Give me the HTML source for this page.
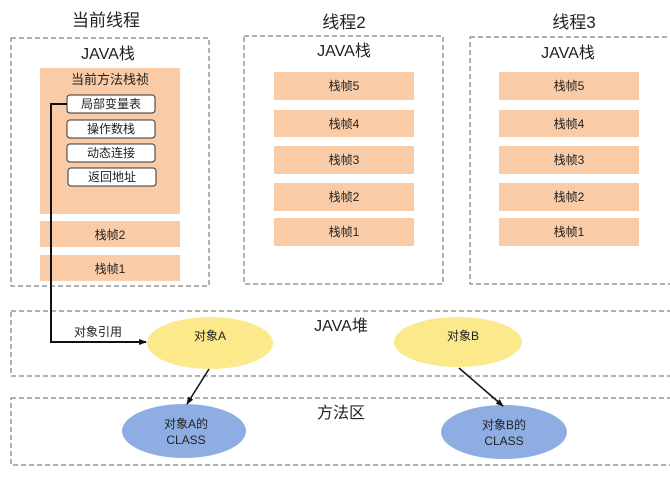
<!DOCTYPE html>
<html><head><meta charset="utf-8"><style>
html,body{margin:0;padding:0;background:#fff;}
svg{display:block;}
text{font-family:"Liberation Sans","Noto Sans CJK SC",sans-serif;fill:#222;text-anchor:middle;}
</style></head><body>
<svg width="670" height="483" viewBox="0 0 670 483" xmlns="http://www.w3.org/2000/svg">
<defs><marker id="ah" markerWidth="8" markerHeight="8" refX="7" refY="4" orient="auto" markerUnits="userSpaceOnUse"><path d="M0,1 L8,4 L0,7 z" fill="#111"/></marker></defs>
<g fill="none" stroke="#666" stroke-width="1" stroke-dasharray="5,3">
<rect x="11" y="38" width="198" height="248"/>
<rect x="244" y="36" width="199" height="248"/>
<rect x="470" y="37" width="210" height="247"/>
<rect x="11" y="311" width="670" height="65"/>
<rect x="11" y="398" width="670" height="67"/>
</g>
<text x="106" y="26" font-size="17">当前线程</text>
<text x="344" y="28" font-size="17">线程2</text>
<text x="574" y="28" font-size="17">线程3</text>
<text x="108" y="59" font-size="16">JAVA栈</text>
<text x="344" y="56" font-size="16">JAVA栈</text>
<text x="568" y="58" font-size="16">JAVA栈</text>
<g fill="#f9cba6">
<rect x="40" y="68" width="140" height="146"/>
<rect x="40" y="221" width="140" height="26"/>
<rect x="40" y="255" width="140" height="26"/>
<rect x="274" y="72" width="140" height="28"/>
<rect x="274" y="110" width="140" height="27"/>
<rect x="274" y="146" width="140" height="28"/>
<rect x="274" y="183" width="140" height="28"/>
<rect x="274" y="218" width="140" height="28"/>
<rect x="499" y="72" width="140" height="28"/>
<rect x="499" y="110" width="140" height="27"/>
<rect x="499" y="146" width="140" height="28"/>
<rect x="499" y="183" width="140" height="28"/>
<rect x="499" y="218" width="140" height="28"/>
</g>
<text x="110" y="84" font-size="13">当前方法栈祯</text>
<g fill="#fff" stroke="#333" stroke-width="1">
<rect x="67" y="95" width="88" height="18" rx="3"/>
<rect x="67" y="120" width="88" height="18" rx="3"/>
<rect x="67" y="144" width="88" height="18" rx="3"/>
<rect x="68" y="168" width="88" height="18" rx="3"/>
</g>
<g font-size="12">
<text x="111" y="108">局部变量表</text>
<text x="111" y="133">操作数栈</text>
<text x="111" y="157">动态连接</text>
<text x="112" y="181">返回地址</text>
<text x="110" y="239">栈帧2</text>
<text x="110" y="273">栈帧1</text>
<text x="344" y="90">栈帧5</text>
<text x="344" y="128">栈帧4</text>
<text x="344" y="164">栈帧3</text>
<text x="344" y="201">栈帧2</text>
<text x="344" y="236">栈帧1</text>
<text x="569" y="90">栈帧5</text>
<text x="569" y="128">栈帧4</text>
<text x="569" y="164">栈帧3</text>
<text x="569" y="201">栈帧2</text>
<text x="569" y="236">栈帧1</text>
</g>
<path d="M67,104 L51,104 L51,342 L146,342" fill="none" stroke="#111" stroke-width="2" marker-end="url(#ah)"/>
<text x="98" y="336" font-size="12">对象引用</text>
<text x="341" y="331" font-size="16">JAVA堆</text>
<text x="341" y="418" font-size="16">方法区</text>
<ellipse cx="210" cy="343" rx="63" ry="26" fill="#fbe98c"/>
<ellipse cx="458" cy="342" rx="64" ry="25" fill="#fbe98c"/>
<text x="210" y="340" font-size="12">对象A</text>
<text x="463" y="340" font-size="12">对象B</text>
<ellipse cx="184" cy="431" rx="62" ry="27" fill="#8eaee3"/>
<ellipse cx="504" cy="432" rx="63" ry="27" fill="#8eaee3"/>
<text x="186" y="428" font-size="12">对象A的</text>
<text x="186" y="444" font-size="12">CLASS</text>
<text x="504" y="429" font-size="12">对象B的</text>
<text x="504" y="445" font-size="12">CLASS</text>
<line x1="209" y1="369" x2="187" y2="404" stroke="#111" stroke-width="1.5" marker-end="url(#ah)"/>
<line x1="459" y1="368" x2="503" y2="406" stroke="#111" stroke-width="1.5" marker-end="url(#ah)"/>
</svg>
</body></html>
